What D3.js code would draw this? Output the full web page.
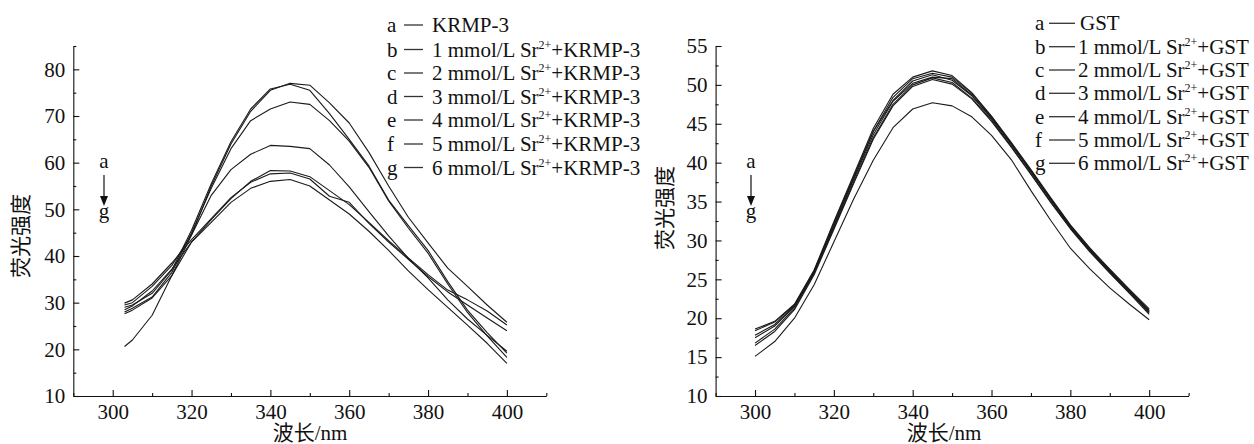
<!DOCTYPE html>
<html>
<head>
<meta charset="utf-8">
<script src="https://cdn.jsdelivr.net/npm/d3@7/dist/d3.min.js"></script>
<style>
  html, body { margin: 0; padding: 0; background: #fff; }
  svg { display: block; }
  text { font-family: "Liberation Serif", "Times New Roman", "Noto Sans CJK SC", serif; fill: #111; }
  .cjk { font-family: "Liberation Serif", "Noto Sans CJK SC", serif; }
</style>
</head>
<body>
<svg id="chart" width="1254" height="444"></svg>
<script>
// ---------------- DATA ----------------
// Left panel: KRMP-3 with Sr2+
const wavelengthLeft = [303, 305, 310, 315, 320, 325, 330, 335, 340, 345, 350, 355, 360, 365, 370, 375, 380, 385, 390, 395, 400];
const krmpA = [20.6, 22.0, 27.3, 35.8, 44.5, 55.0, 64.0, 71.0, 75.5, 77.0, 76.6, 72.8, 68.5, 62.2, 55.0, 48.3, 42.8, 37.4, 33.5, 29.5, 25.8];
const krmpB = [29.0, 29.5, 32.0, 37.0, 45.5, 55.5, 64.5, 71.5, 75.8, 76.8, 75.5, 70.5, 65.0, 59.3, 52.0, 46.5, 41.2, 34.5, 28.4, 23.6, 19.2];
const krmpC = [28.0, 28.8, 31.2, 36.5, 45.0, 54.5, 63.0, 69.0, 71.5, 73.0, 72.5, 69.0, 64.6, 59.0, 51.8, 46.0, 40.6, 34.0, 27.9, 22.9, 18.3];
const krmpD = [29.5, 30.0, 33.5, 38.0, 44.5, 53.0, 58.5, 61.8, 63.7, 63.5, 63.0, 59.5, 54.8, 49.5, 44.3, 39.5, 35.3, 30.6, 26.5, 23.0, 19.6];
const krmpE = [27.6, 28.4, 31.0, 35.8, 43.0, 47.8, 52.3, 56.0, 58.3, 58.2, 57.0, 54.0, 51.0, 47.2, 43.3, 39.6, 36.0, 32.7, 30.6, 28.2, 25.2];
const krmpF = [29.9, 30.6, 34.0, 38.5, 43.5, 48.0, 52.5, 55.8, 57.6, 57.8, 56.5, 52.8, 51.5, 47.0, 43.0, 39.3, 35.6, 32.3, 29.5, 26.7, 24.0];
const krmpG = [28.5, 29.3, 32.5, 37.2, 43.0, 47.2, 51.5, 54.5, 56.0, 56.4, 55.0, 52.0, 49.0, 45.3, 41.2, 36.8, 32.8, 29.0, 25.2, 21.3, 17.0];

// Right panel: GST with Sr2+
const wavelengthRight = [300, 305, 310, 315, 320, 325, 330, 335, 340, 345, 350, 355, 360, 365, 370, 375, 380, 385, 390, 395, 400];
const gstA = [18.6, 19.6, 21.8, 26.2, 32.4, 38.4, 44.4, 48.8, 51.0, 51.8, 51.2, 49.0, 46.0, 42.6, 39.1, 35.5, 32.0, 29.0, 26.3, 23.7, 21.2];
const gstB = [18.4, 19.5, 21.7, 26.0, 32.2, 38.2, 44.0, 48.4, 50.8, 51.5, 51.0, 48.9, 45.9, 42.5, 39.0, 35.4, 31.9, 28.9, 26.2, 23.6, 21.0];
const gstC = [17.8, 19.2, 21.6, 26.1, 32.0, 38.0, 44.0, 48.0, 50.5, 51.3, 50.6, 48.6, 45.7, 42.3, 38.9, 35.3, 31.8, 28.8, 26.1, 23.5, 20.9];
const gstD = [17.5, 19.0, 21.5, 25.9, 31.8, 37.8, 43.6, 47.9, 50.2, 51.0, 50.8, 48.7, 45.8, 42.4, 38.8, 35.2, 31.7, 28.7, 26.0, 23.4, 20.8];
const gstE = [16.8, 18.6, 21.3, 25.8, 31.6, 37.5, 43.2, 47.5, 50.0, 50.9, 50.3, 48.3, 45.5, 42.1, 38.6, 35.0, 31.6, 28.6, 25.9, 23.3, 20.7];
const gstF = [16.5, 18.3, 21.1, 25.6, 31.4, 37.3, 43.0, 47.3, 49.8, 50.7, 50.1, 48.2, 45.3, 42.0, 38.5, 34.9, 31.5, 28.5, 25.8, 23.2, 20.5];
const gstG = [15.1, 17.0, 20.0, 24.3, 29.8, 35.3, 40.3, 44.5, 46.9, 47.7, 47.3, 45.9, 43.5, 40.4, 36.4, 32.6, 29.0, 26.3, 23.9, 21.8, 19.8];

// Tick values
const xTicksMajor = [300, 320, 340, 360, 380, 400];
const xTicksMinor = [290, 310, 330, 350, 370, 390, 410];
const yTicksLeftMajor = [10, 20, 30, 40, 50, 60, 70, 80];
const yTicksLeftMinor = [15, 25, 35, 45, 55, 65, 75, 85];
const yTicksRightMajor = [10, 15, 20, 25, 30, 35, 40, 45, 50, 55];
const yTicksRightMinor = [12.5, 17.5, 22.5, 27.5, 32.5, 37.5, 42.5, 47.5, 52.5];

// Legend texts
const legendLetters = ["a", "b", "c", "d", "e", "f", "g"];
const legendDoses = ["", "1", "2", "3", "4", "5", "6"];
const yTitle = "荧光强度";
const xTitle = "波长/nm";

// ---------------- DRAW ----------------
const svg = d3.select("#chart");

function panel(cfg) {
  const g = svg.append("g");
  const x = d3.scaleLinear().domain([290, 410]).range([cfg.left, cfg.left + 473]);
  const y = d3.scaleLinear().domain(cfg.yDomain).range([396, 46]);

  // minor ticks
  g.append("g").attr("transform", "translate(0,396)")
    .call(d3.axisBottom(x).tickValues(xTicksMinor).tickSize(-3).tickSizeOuter(0).tickFormat(""))
    .call(s => s.select(".domain").remove());
  g.append("g").attr("transform", `translate(${cfg.left},0)`)
    .call(d3.axisLeft(y).tickValues(cfg.yMinor).tickSize(-3).tickSizeOuter(0).tickFormat(""))
    .call(s => s.select(".domain").remove());

  // major axes
  const xa = g.append("g").attr("transform", "translate(0,396)")
    .call(d3.axisBottom(x).tickValues(xTicksMajor).tickSize(-6).tickSizeOuter(0).tickPadding(8).tickFormat(d3.format("d")));
  const ya = g.append("g").attr("transform", `translate(${cfg.left},0)`)
    .call(d3.axisLeft(y).tickValues(cfg.yMajor).tickSize(-6).tickSizeOuter(0).tickPadding(8).tickFormat(d3.format("d")));
  [xa, ya].forEach(a => {
    a.selectAll("text").attr("font-size", 21).attr("font-family", "Liberation Serif").attr("fill", "#111");
    a.selectAll("line, path").attr("stroke", "#111").attr("stroke-width", 1.1);
  });
  g.selectAll(".tick line").attr("stroke", "#111").attr("stroke-width", 1.1);

  // curves
  const line = d3.line().x(d => x(d[0])).y(d => y(d[1]));
  cfg.series.forEach(vals => {
    const pts = cfg.wl.map((w, i) => [w, vals[i]]);
    g.append("path").datum(pts).attr("d", line)
      .attr("fill", "none").attr("stroke", "#1a1a1a").attr("stroke-width", 1.1)
      .attr("stroke-linejoin", "round");
  });

  // axis titles
  g.append("text").attr("class", "cjk")
    .attr("transform", `translate(${cfg.yTitleX},${cfg.yTitleY}) rotate(-90)`)
    .attr("text-anchor", "middle").attr("dominant-baseline", "central")
    .attr("font-size", 21).text(yTitle);
  g.append("text").attr("class", "cjk")
    .attr("x", cfg.xTitleX).attr("y", 440)
    .attr("text-anchor", "middle").attr("font-size", 21).text(xTitle);

  // a -> g arrow annotation
  const ax = cfg.arrowX;
  g.append("text").attr("x", ax).attr("y", 168).attr("text-anchor", "middle").attr("font-size", 21).text("a");
  g.append("line").attr("x1", ax).attr("x2", ax).attr("y1", 175).attr("y2", 198)
    .attr("stroke", "#111").attr("stroke-width", 1.2);
  g.append("path").attr("d", `M${ax - 4},${196} L${ax + 4},${196} L${ax},${206} Z`).attr("fill", "#111");
  g.append("text").attr("x", ax).attr("y", 218).attr("text-anchor", "middle").attr("font-size", 21).text("g");

  // legend
  const rowsY = cfg.legendRows;
  legendLetters.forEach((L, i) => {
    const cy = rowsY[i];
    g.append("text").attr("x", cfg.legLetterX).attr("y", cy + 7).attr("font-size", 21).text(L);
    g.append("line").attr("x1", cfg.legLine[0]).attr("x2", cfg.legLine[1])
      .attr("y1", cy).attr("y2", cy).attr("stroke", "#333").attr("stroke-width", 1.3);
    const t = g.append("text").attr("x", cfg.legTextX[i === 0 ? 0 : 1]).attr("y", cy + 7).attr("font-size", 21);
    if (i === 0) {
      t.text(cfg.sample);
    } else {
      t.append("tspan").text(legendDoses[i] + " mmol/L Sr");
      t.append("tspan").attr("font-size", 12).attr("dy", -8).text("2+");
      t.append("tspan").attr("dy", 8).text("+" + cfg.sample);
    }
  });
}

panel({
  left: 73.3,
  yDomain: [10, 85],
  yMajor: yTicksLeftMajor,
  yMinor: yTicksLeftMinor,
  wl: wavelengthLeft,
  series: [krmpA, krmpB, krmpC, krmpD, krmpE, krmpF, krmpG],
  yTitleX: 21, yTitleY: 236,
  xTitleX: 310,
  arrowX: 104,
  legendRows: [25, 49.5, 73, 96.5, 120, 144, 167.5],
  legLetterX: 387, legLine: [404, 423], legTextX: [432, 432],
  sample: "KRMP-3"
});

panel({
  left: 715.6,
  yDomain: [10, 55],
  yMajor: yTicksRightMajor,
  yMinor: yTicksRightMinor,
  wl: wavelengthRight,
  series: [gstA, gstB, gstC, gstD, gstE, gstF, gstG],
  yTitleX: 665, yTitleY: 208,
  xTitleX: 944,
  arrowX: 751,
  legendRows: [23.3, 46.7, 70, 93.3, 116.7, 140, 163.3],
  legLetterX: 1035, legLine: [1049, 1075], legTextX: [1080, 1078],
  sample: "GST"
});
</script>
</body>
</html>
